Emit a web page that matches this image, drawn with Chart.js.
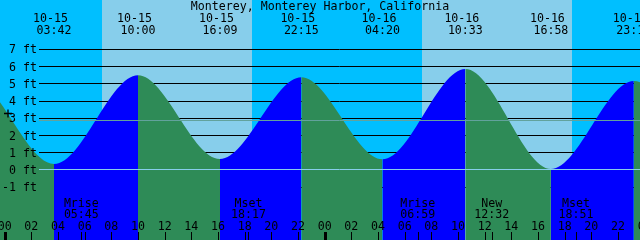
<!DOCTYPE html>
<html>
<head>
<meta charset="utf-8">
<script src="https://cdn.jsdelivr.net/npm/chart.js@4.4.1/dist/chart.umd.min.js"></script>
<style>
  html, body { margin: 0; padding: 0; background: #fff; }
  #wrap { width: 640px; height: 240px; }
</style>
</head>
<body>
<div id="wrap"><canvas id="tides"></canvas></div>
<script>
// Monterey Harbor tide extremes (first two and last one sit outside the window)
const tideDates = ['10-14', '10-14', '10-15', '10-15', '10-15', '10-15', '10-16', '10-16', '10-16', '10-16', '10-17', '10-17'];
const tideClock = ['15:25', '21:30', '03:42', '10:00', '16:09', '22:15', '04:20', '10:33', '16:58', '23:11', '05:30', '11:50'];
const tideFeet = [1.0, 5.3, 0.35, 5.5, 0.64, 5.38, 0.62, 5.86, 0.06, 5.16, 0.5, 5.9];

// sun
const sunDates = ['10-15', '10-16'];
const sunrise = ['07:17', '07:18'];
const sunset = ['18:32', '18:31'];

// moon
const moonDates = ['10-15', '10-15', '10-16', '10-16', '10-16'];
const moonClock = ['05:45', '18:17', '06:59', '12:32', '18:51'];
const moonEvents = ['Mrise', 'Mset', 'Mrise', 'New', 'Mset'];

// axes
const feetTicks = [-1, 0, 1, 2, 3, 4, 5, 6, 7];
const hourTicks = [0, 2, 4, 6, 8, 10, 12, 14, 16, 18, 20, 22, 24, 26, 28, 30, 32, 34, 36, 38, 40, 42, 44, 46, 48];
const mslFeet = 2.9;

const title = 'Monterey, Monterey Harbor, California';

const nightColor = '#00bfff';
const dayColor = '#87ceeb';
const riseColor = '#0000ff';
const fallColor = '#2e8b57';
const datumColor = '#87ceeb';
const mslColor = '#62a29c';
const font = '11.6px "DejaVu Sans Mono", monospace';

// hours counted from 10-15 00:00
const toHours = (date, clock) => {
  const day = +date.split('-')[1] - 15;
  const [h, m] = clock.split(':').map(Number);
  return day * 24 + h + m / 60;
};

const pad2 = n => String(n % 24).padStart(2, '0');

const points = tideDates.map((d, i) => ({x: toHours(d, tideClock[i]), y: tideFeet[i]}));

const xtide = {
  id: 'xtide',
  beforeDraw(chart) {
    const {ctx, scales: {x}} = chart;
    ctx.save();
    ctx.fillStyle = nightColor;
    ctx.fillRect(0, 0, chart.width, chart.height);
    ctx.fillStyle = dayColor;
    sunDates.forEach((d, i) => {
      const x0 = Math.round(x.getPixelForValue(toHours(d, sunrise[i])));
      const x1 = Math.round(x.getPixelForValue(toHours(sunDates[i], sunset[i])));
      ctx.fillRect(x0, 0, x1 - x0, chart.height);
    });
    ctx.restore();
  },
  beforeDatasetsDraw(chart) {
    const {ctx, scales: {y}, chartArea} = chart;
    ctx.save();
    ctx.strokeStyle = '#000';
    ctx.lineWidth = 1;
    feetTicks.forEach(v => {
      const py = Math.floor(y.getPixelForValue(v)) + 0.5;
      ctx.beginPath();
      ctx.moveTo(39, py);
      ctx.lineTo(chartArea.right, py);
      ctx.stroke();
    });
    ctx.restore();
  },
  afterDatasetsDraw(chart) {
    const {ctx, scales: {x, y}, chartArea} = chart;
    ctx.save();

    // datum and mean sea level
    [[0, datumColor], [mslFeet, mslColor]].forEach(([v, c]) => {
      const py = Math.floor(y.getPixelForValue(v)) + 0.5;
      ctx.strokeStyle = c;
      ctx.beginPath();
      ctx.moveTo(39, py);
      ctx.lineTo(chartArea.right, py);
      ctx.stroke();
    });

    ctx.fillStyle = '#000';
    ctx.font = font;
    ctx.textBaseline = 'alphabetic';

    // title
    ctx.textAlign = 'center';
    ctx.fillText(title, 320, 10);

    // tide times along the top
    tideDates.forEach((d, i) => {
      const px = x.getPixelForValue(toHours(d, tideClock[i]));
      ctx.fillText(d, px - 3.5, 22);
      ctx.fillText(tideClock[i], px, 34);
    });

    // feet labels
    ctx.textAlign = 'right';
    feetTicks.forEach(v => {
      ctx.fillText(v + ' ft', 37, y.getPixelForValue(v) + 4);
    });

    // marker
    ctx.strokeStyle = '#000';
    ctx.lineWidth = 1.3;
    ctx.beginPath();
    ctx.moveTo(4, 113.5);
    ctx.lineTo(12, 113.5);
    ctx.moveTo(8, 109.5);
    ctx.lineTo(8, 117.5);
    ctx.stroke();

    // moon events
    ctx.textAlign = 'center';
    moonDates.forEach((d, i) => {
      const px = x.getPixelForValue(toHours(d, moonClock[i]));
      ctx.fillText(moonEvents[i], px, 206.5);
      ctx.fillText(moonClock[i], px, 217.5);
      ctx.fillRect(Math.round(px), 232, 1, 8);
    });

    // hour ticks
    hourTicks.forEach(h => {
      const px = x.getPixelForValue(h);
      ctx.fillText(pad2(h), px, 229.5);
      if (h % 24 === 0) {
        ctx.fillRect(Math.round(px) - 1, 232, 3, 8);
      } else {
        ctx.fillRect(Math.round(px), 232, 1, 8);
      }
    });

    ctx.restore();
  }
};

new Chart(document.getElementById('tides'), {
  type: 'line',
  data: {
    datasets: [{
      data: points,
      fill: 'start',
      backgroundColor: fallColor,
      borderColor: 'transparent',
      borderWidth: 0,
      pointRadius: 0,
      cubicInterpolationMode: 'monotone',
      segment: {
        backgroundColor: c => c.p1.parsed.y > c.p0.parsed.y ? riseColor : fallColor
      }
    }]
  },
  options: {
    responsive: true,
    maintainAspectRatio: false,
    animation: false,
    layout: { padding: 0 },
    plugins: {
      legend: { display: false },
      tooltip: { enabled: false },
      title: { display: false }
    },
    scales: {
      x: { type: 'linear', min: -0.35, max: 47.65, display: false },
      y: { type: 'linear', min: -4.06, max: 9.86, display: false }
    }
  },
  plugins: [xtide]
});
</script>
</body>
</html>
